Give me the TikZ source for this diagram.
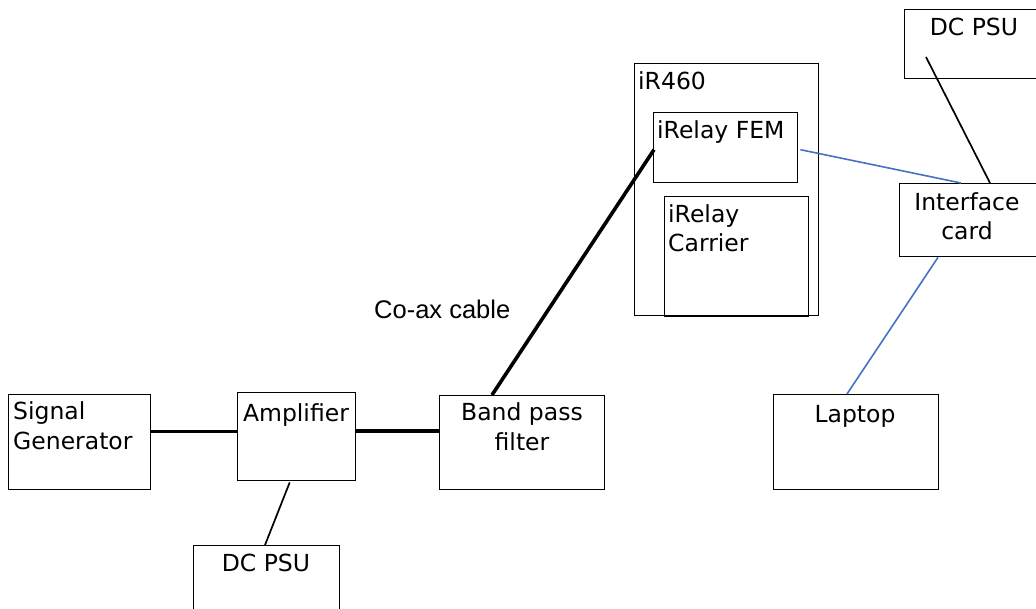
\documentclass[tikz,border=0pt]{standalone}
\usepackage{fontspec}
\setmainfont{DejaVu Sans}
\newfontfamily\arialfont{Liberation Sans}
\usetikzlibrary{calc}
\definecolor{linkblue}{RGB}{68,114,196}
\begin{document}
\begin{tikzpicture}[x=1pt,y=-1pt,
  box/.style={draw, line width=1.4pt, inner sep=0pt, anchor=north west},
  txt/.style={font=\fontsize{23.5}{29.5}\selectfont, inner sep=0pt},
  thinline/.style={line width=1.7pt},
  thickline/.style={line width=3.6pt},
  usbline/.style={draw=linkblue, line width=1.6pt}]
\useasboundingbox (0,0) rectangle (1036,609);
\clip (0,0) rectangle (1036,609);
% boxes
\node[box, minimum width=160, minimum height=69] (psutop) at (904,9) {};
\node[box, minimum width=160, minimum height=73] (ic) at (899,183) {};
\node[box, minimum width=184, minimum height=252] (ir) at (634,63) {};
\node[box, minimum width=144, minimum height=70] (fem) at (653,112) {};
\node[box, minimum width=144, minimum height=120] (car) at (664,196) {};
\node[box, minimum width=165, minimum height=95] (lap) at (773,394) {};
\node[box, minimum width=142, minimum height=95] (sg) at (8,394) {};
\node[box, minimum width=118, minimum height=88] (amp) at (237,392) {};
\node[box, minimum width=165, minimum height=94] (bpf) at (439,395) {};
\node[box, minimum width=146, minimum height=80] (psubot) at (193,545) {};
% texts (multi-line nodes: base = last line)
\node[txt, anchor=base] (tpsutop) at (974,36) {DC PSU};
\node[txt, anchor=base, align=center] (tic) at (967,240) {Interface\\card};
\node[txt, anchor=base west] (tir) at (638,90) {iR460};
\node[txt, anchor=base west] (tfem) at (657,139) {iRelay FEM};
\node[txt, anchor=base west, align=left] (tcar) at (668,252) {iRelay\\Carrier};
\node[txt, anchor=base] (tlap) at (855,422) {Laptop};
\node[txt, anchor=base west, align=left] (tsg) at (13,449.5) {Signal\\Generator};
\node[txt, anchor=base] (tamp) at (296,421) {Amplifier};
\node[txt, anchor=base, align=center] (tbpf) at (522,450) {Band pass\\filter};
\node[txt, anchor=base] (tpsubot) at (266,571) {DC PSU};
\node[inner sep=0pt, anchor=base west, font=\arialfont\fontsize{25.5}{30}\selectfont] (coax) at (374,319) {Co-ax cable};
% connectors
\draw[thinline] ($(psutop.north west)+(22,48)$) -- ($(ic.north west)+(91,0)$);
\draw[usbline] ($(fem.east)+(2,2)$) -- ($(ic.north west)+(62,0)$);
\draw[usbline] ($(ic.south west)+(39,0)$) -- ($(lap.north west)+(74,0)$);
\draw[thickline] ($(fem.west)+(1,2)$) -- ($(bpf.north west)+(53,0)$);
\draw[thickline, line width=3.2pt] ($(sg.east)+(0,-10.5)$) -- ($(amp.west)+(0,-5)$);
\draw[thickline, line width=4.2pt] ($(amp.east)+(0,-6)$) -- ($(bpf.west)+(0,-12)$);
\draw[thinline] ($(amp.south)+(-7,1)$) -- ($(psubot.north west)+(72,0)$);
\end{tikzpicture}
\end{document}
